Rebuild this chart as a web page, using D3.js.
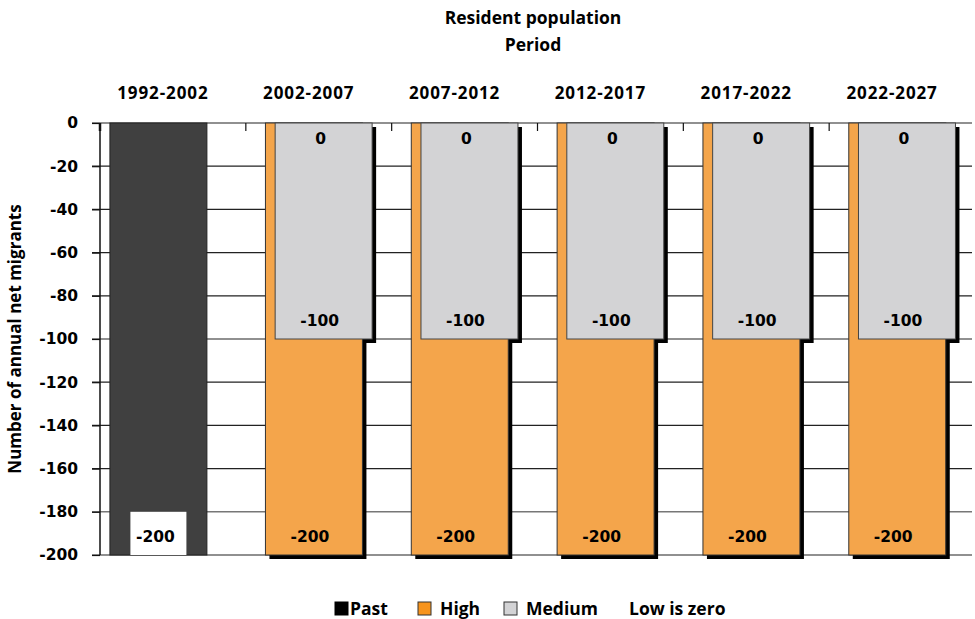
<!DOCTYPE html>
<html>
<head>
<meta charset="utf-8">
<script src="https://cdn.jsdelivr.net/npm/d3@7"></script>
<style>
  body { margin: 0; background: #fff; }
  svg { display: block; }
  .title, .cat, .legend, .ytitle { font-family: "Open Sans", sans-serif; font-weight: 700; fill: #000; }
  .tick text, .val { font-family: "DejaVu Sans", sans-serif; font-weight: 700; }
</style>
</head>
<body>
<svg id="chart"></svg>
<script>
// chart data
var categories = ["1992-2002", "2002-2007", "2007-2012", "2012-2017", "2017-2022", "2022-2027"];
var past = [-200, null, null, null, null, null];
var high = [null, -200, -200, -200, -200, -200];
var medium = [null, -100, -100, -100, -100, -100];
var low = [null, 0, 0, 0, 0, 0];
var yTicks = [0, -20, -40, -60, -80, -100, -120, -140, -160, -180, -200];

var w = 975, h = 619;
// plot edges (note: "top" is a reserved window global)
var plotLeft = 100, plotRight = 975, plotTop = 123, plotBottom = 555;

var svg = d3.select("#chart").attr("width", w).attr("height", h);

var x = d3.scaleBand().domain(categories).range([plotLeft, plotRight]).padding(0);
var y = d3.scaleLinear().domain([0, -200]).range([plotTop, plotBottom]);

var bw = x.bandwidth();
var barW = bw * 0.665;
// series slot offsets inside a band (overlapping clusters)
function slot(i) { return bw * 0.068 + i * bw * 0.0665; }

// gridlines
svg.append("g").selectAll("line")
  .data(yTicks)
  .enter().append("line")
  .attr("x1", 92).attr("x2", 972)
  .attr("y1", function (d) { return y(d); })
  .attr("y2", function (d) { return y(d); })
  .attr("stroke", function (d) { return d === -180 ? "#777" : "#222"; })
  .attr("stroke-width", function (d) { return d === -180 ? 1.6 : 1.2; });

// y axis (plain hyphen minus like the original)
var yAxis = d3.axisLeft(y).tickValues(yTicks).tickSize(8).tickPadding(14)
  .tickFormat(function (d) { return String(d); });
var gy = svg.append("g").attr("transform", "translate(" + plotLeft + ",0)").call(yAxis);
gy.select(".domain").remove();
gy.selectAll(".tick line").attr("stroke", "#111").attr("stroke-width", 1.2);
gy.selectAll(".tick text").attr("font-size", 15.5).attr("fill", "#000");
svg.append("line")
  .attr("x1", plotLeft).attr("x2", plotLeft).attr("y1", plotTop).attr("y2", plotBottom)
  .attr("stroke", "#111").attr("stroke-width", 1.5);

// top category axis: ticks at band boundaries pointing down
var bounds = categories.map(function (c) { return x(c); });
svg.append("g").selectAll("line")
  .data(bounds)
  .enter().append("line")
  .attr("x1", function (d) { return d; }).attr("x2", function (d) { return d; })
  .attr("y1", plotTop).attr("y2", plotTop + 8)
  .attr("stroke", "#111")
  .attr("stroke-width", function (d, i) { return i === 0 ? 2.5 : 1.2; });

svg.append("g").selectAll("text")
  .data(categories)
  .enter().append("text")
  .attr("class", "cat")
  .attr("x", function (d) { return x(d) + bw / 2 - 10; })
  .attr("y", 99)
  .attr("text-anchor", "middle")
  .attr("font-size", 17)
  .attr("letter-spacing", 0.9)
  .text(function (d) { return d; });

function bars(values, i) {
  return categories.map(function (c, k) { return { c: c, v: values[k], i: i }; })
    .filter(function (d) { return d.v !== null; });
}
var highData = bars(high, 1), medData = bars(medium, 2), pastData = bars(past, 0);

// shadows first (bars cover them where they overlap)
var sh = 4;
[highData, medData].forEach(function (data) {
  svg.append("g").selectAll("rect")
    .data(data)
    .enter().append("rect")
    .attr("x", function (d) { return x(d.c) + slot(d.i) + sh; })
    .attr("y", function (d) { return y(0) + sh; })
    .attr("width", barW)
    .attr("height", function (d) { return y(d.v) - y(0); })
    .attr("fill", "#000");
});

// past bar
svg.append("g").selectAll("rect")
  .data(pastData)
  .enter().append("rect")
  .attr("x", function (d) { return x(d.c) + slot(d.i); })
  .attr("y", y(0))
  .attr("width", barW)
  .attr("height", function (d) { return y(d.v) - y(0); })
  .attr("fill", "#404040")
  .attr("stroke", "#222").attr("stroke-width", 1);

// high bars
svg.append("g").selectAll("rect")
  .data(highData)
  .enter().append("rect")
  .attr("x", function (d) { return x(d.c) + slot(d.i); })
  .attr("y", y(0))
  .attr("width", barW)
  .attr("height", function (d) { return y(d.v) - y(0); })
  .attr("fill", "#F4A54B")
  .attr("stroke", "#333").attr("stroke-width", 1);

// medium bars
svg.append("g").selectAll("rect")
  .data(medData)
  .enter().append("rect")
  .attr("x", function (d) { return x(d.c) + slot(d.i); })
  .attr("y", y(0))
  .attr("width", barW)
  .attr("height", function (d) { return y(d.v) - y(0); })
  .attr("fill", "#D3D3D5")
  .attr("stroke", "#444").attr("stroke-width", 1);

// past value label with white box
svg.append("g").selectAll("rect")
  .data(pastData)
  .enter().append("rect")
  .attr("x", function (d) { return x(d.c) + slot(d.i) + barW / 2 - 28; })
  .attr("y", y(-180))
  .attr("width", 56)
  .attr("height", y(-200) - y(-180))
  .attr("fill", "#fff");
svg.append("g").selectAll("text")
  .data(pastData)
  .enter().append("text")
  .attr("class", "val")
  .attr("x", function (d) { return x(d.c) + slot(d.i) + barW / 2 - 3; })
  .attr("y", 542)
  .attr("text-anchor", "middle")
  .attr("font-size", 15.5)
  .text(function (d) { return d.v; });

// high labels at bar bottom
svg.append("g").selectAll("text")
  .data(highData)
  .enter().append("text")
  .attr("class", "val")
  .attr("x", function (d) { return x(d.c) + slot(d.i) + barW / 2 - 4; })
  .attr("y", function (d) { return y(d.v) - 13; })
  .attr("text-anchor", "middle")
  .attr("font-size", 15.5)
  .text(function (d) { return d.v; });

// medium labels at bar bottom
svg.append("g").selectAll("text")
  .data(medData)
  .enter().append("text")
  .attr("class", "val")
  .attr("x", function (d) { return x(d.c) + slot(d.i) + barW / 2 - 4; })
  .attr("y", function (d) { return y(d.v) - 13; })
  .attr("text-anchor", "middle")
  .attr("font-size", 15.5)
  .text(function (d) { return d.v; });

// low (zero) labels at top of medium bars
var lowData = bars(low, 3);
svg.append("g").selectAll("text")
  .data(lowData)
  .enter().append("text")
  .attr("class", "val")
  .attr("x", function (d) { return x(d.c) + slot(2) + barW / 2 - 3; })
  .attr("y", function (d) { return y(d.v) + 21; })
  .attr("text-anchor", "middle")
  .attr("font-size", 15.5)
  .text(function (d) { return d.v; });

// titles
svg.append("text").attr("class", "title")
  .attr("x", 533).attr("y", 24).attr("text-anchor", "middle")
  .attr("font-size", 17.5).text("Resident population");
svg.append("text").attr("class", "title")
  .attr("x", 533).attr("y", 51).attr("text-anchor", "middle")
  .attr("font-size", 17.5).text("Period");
svg.append("text").attr("class", "ytitle")
  .attr("transform", "translate(21," + ((plotTop + plotBottom) / 2) + ") rotate(-90)")
  .attr("text-anchor", "middle")
  .attr("font-size", 17)
  .text("Number of annual net migrants");

// legend
var legend = [
  { label: "Past", fill: "#000", stroke: "#000", sx: 335, tx: 350 },
  { label: "High", fill: "#F7941D", stroke: "#333", sx: 418, tx: 440 },
  { label: "Medium", fill: "#D3D3D5", stroke: "#333", sx: 504, tx: 526 },
  { label: "Low is zero", fill: null, sx: null, tx: 629 }
];
var lg = svg.append("g");
lg.selectAll("rect")
  .data(legend.filter(function (d) { return d.fill; }))
  .enter().append("rect")
  .attr("x", function (d) { return d.sx; })
  .attr("y", 602)
  .attr("width", 13).attr("height", 13)
  .attr("fill", function (d) { return d.fill; })
  .attr("stroke", function (d) { return d.stroke; })
  .attr("stroke-width", 1);
lg.selectAll("text")
  .data(legend)
  .enter().append("text")
  .attr("class", "legend")
  .attr("x", function (d) { return d.tx; })
  .attr("y", 615)
  .attr("font-size", 17.5)
  .text(function (d) { return d.label; });
</script>
</body>
</html>
